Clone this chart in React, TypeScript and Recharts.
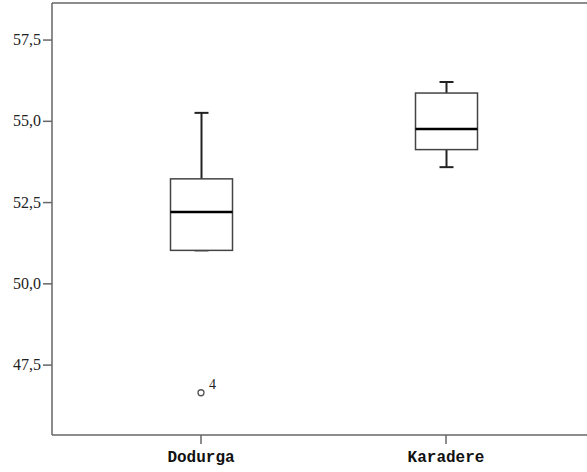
import React from 'react';
import { ComposedChart, Bar, Scatter, XAxis, YAxis, ReferenceLine } from 'recharts';

// Boxplot summary per site
const sites = ['Dodurga', 'Karadere'];
const whiskerLow = [51.03, 53.59];
const quartile1 = [51.03, 54.13];
const medians = [52.21, 54.76];
const quartile3 = [53.23, 55.87];
const whiskerHigh = [55.26, 56.21];
const outliers: Array<number | null> = [46.65, null];
const outlierCase = ['4', ''];

const yTicks = [47.5, 50, 52.5, 55, 57.5];
const yDomain = [45.35, 58.64];

const data = sites.map((site, i) => ({
  site,
  min: whiskerLow[i],
  q1: quartile1[i],
  median: medians[i],
  q3: quartile3[i],
  max: whiskerHigh[i],
  outlier: outliers[i],
  caseId: outlierCase[i],
}));

const axisColor = '#666';
const serif = 'Liberation Serif, DejaVu Serif, serif';
const mono = 'Liberation Mono, DejaVu Sans Mono, monospace';

/**
 * Draw whiskers + box + median inside the pixel span of the [min, max] range bar
 */
function BoxShape(props: any) {
  const { x, y, width, height, payload } = props;
  const { min, max, q1, median, q3 } = payload;
  const span = max - min;
  const toY = (v: number) => y + (height * (max - v)) / span;
  const cx = x + width / 2;
  const cap = 14;
  const yQ1 = toY(q1);
  const yQ3 = toY(q3);
  const yMed = toY(median);
  return (
    <g>
      <line x1={cx} x2={cx} y1={y} y2={y + height} stroke="#222" strokeWidth={2} />
      <line x1={cx - cap / 2} x2={cx + cap / 2} y1={y} y2={y} stroke="#222" strokeWidth={2} />
      <line
        x1={cx - cap / 2}
        x2={cx + cap / 2}
        y1={y + height}
        y2={y + height}
        stroke="#222"
        strokeWidth={2}
      />
      <rect x={x} y={yQ3} width={width} height={yQ1 - yQ3} fill="#fff" stroke="#444" strokeWidth={1.5} />
      <line x1={x} x2={x + width} y1={yMed} y2={yMed} stroke="#000" strokeWidth={2.5} />
    </g>
  );
}

function OutlierShape(props: any) {
  const { cx, cy, payload } = props;
  if (payload.outlier == null) return null;
  return (
    <g>
      <circle cx={cx} cy={cy} r={3} fill="#fff" stroke="#555" strokeWidth={1.3} />
      <text x={cx + 8} y={cy - 4} style={{ fontFamily: serif, fontSize: 14 }} fill="#222">
        {payload.caseId}
      </text>
    </g>
  );
}

function YTick(props: any) {
  const { x, y, payload } = props;
  return (
    <text
      x={x}
      y={y}
      dy={5}
      textAnchor="end"
      fill="#222"
      style={{ fontFamily: serif, fontSize: 16 }}
    >
      {payload.value.toFixed(1).replace('.', ',')}
    </text>
  );
}

function XTick(props: any) {
  const { x, y, payload } = props;
  return (
    <text
      x={x}
      y={y}
      dy={13}
      textAnchor="middle"
      fill="#111"
      style={{ fontFamily: mono, fontSize: 16, fontWeight: 'bold' }}
    >
      {payload.value}
    </text>
  );
}

export default function App() {
  return (
    <div style={{ position: 'absolute', left: 0, top: 0, background: '#fff' }}>
      <ComposedChart
        width={587}
        height={472}
        data={data}
        margin={{ top: 3, right: 0, bottom: 0, left: 0 }}
      >
        <XAxis
          dataKey="site"
          height={37}
          padding={{ left: 26.5, right: 18.5 }}
          axisLine={{ stroke: axisColor, strokeWidth: 1.5 }}
          tickLine={{ stroke: axisColor, strokeWidth: 1.5 }}
          tickSize={9}
          tickMargin={5}
          tick={<XTick />}
        />
        <YAxis
          type="number"
          domain={yDomain}
          ticks={yTicks}
          width={52}
          allowDataOverflow
          axisLine={{ stroke: axisColor, strokeWidth: 1.5 }}
          tickLine={{ stroke: axisColor, strokeWidth: 1.5 }}
          tickSize={9}
          tickMargin={2}
          tick={<YTick />}
        />
        <ReferenceLine y={yDomain[1]} stroke={axisColor} strokeWidth={1.5} />
        <Bar
          dataKey={(d: any) => [d.min, d.max]}
          barSize={62}
          shape={<BoxShape />}
          isAnimationActive={false}
        />
        <Scatter dataKey="outlier" shape={<OutlierShape />} isAnimationActive={false} />
      </ComposedChart>
    </div>
  );
}
